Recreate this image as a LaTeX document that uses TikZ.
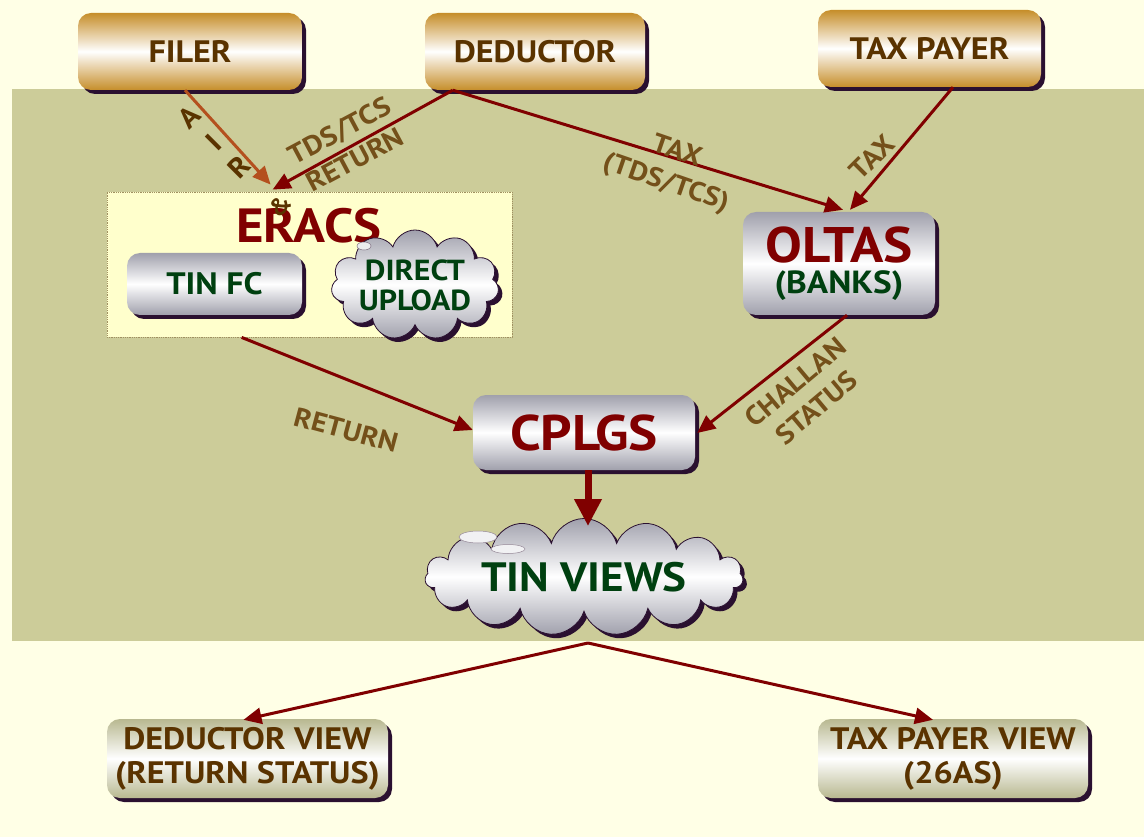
\documentclass[tikz,border=0pt]{standalone}
\usepackage{fontspec}
\setmainfont{PT Sans}[FakeStretch=1.1]
\usetikzlibrary{arrows.meta,shapes.symbols,shadows,calc}
\definecolor{cream}{HTML}{FFFFE6}
\definecolor{olive}{HTML}{CCCC99}
\definecolor{eracsbg}{HTML}{FFFFCC}
\definecolor{dotc}{HTML}{A09060}
\definecolor{gold}{HTML}{C68E2A}
\definecolor{silver}{HTML}{A0A0AC}
\definecolor{viewc}{HTML}{B8B890}
\definecolor{shadowc}{HTML}{2A1030}
\definecolor{arrowc}{HTML}{800000}
\definecolor{airc}{HTML}{B4501E}
\definecolor{labelc}{HTML}{74501A}
\definecolor{brownt}{HTML}{5A3300}
\definecolor{redt}{HTML}{800000}
\definecolor{greent}{HTML}{004010}
\begin{document}
\begin{tikzpicture}[x=1pt,y=-1pt,
  sh/.style={drop shadow={shadow xshift=4pt,shadow yshift=-4pt,fill=shadowc,opacity=1}},
  box/.style={rounded corners=13pt, inner sep=0pt, align=center, sh},
  goldbox/.style={box, top color=gold, bottom color=gold, middle color=white, text=brownt, font=\bfseries\fontsize{31}{33}\selectfont},
  silverbox/.style={box, top color=silver, bottom color=silver, middle color=white},
  viewbox/.style={box, top color=viewc, bottom color=viewc, middle color=white, text=brownt, font=\bfseries\fontsize{31}{34}\selectfont},
  cloudn/.style={cloud, cloud puffs=11, cloud ignores aspect, inner sep=0pt, draw=shadowc, line width=0.8pt, top color=silver, bottom color=silver, middle color=white, align=center, sh},
  arr/.style={draw=arrowc, line width=3pt, -{Triangle[length=18pt,width=16pt]}},
  lab/.style={text=labelc, font=\bfseries\fontsize{27}{33}\selectfont, align=center, inner sep=0pt},
]
\useasboundingbox (0,0) rectangle (1144,837);
\fill[cream] (0,0) rectangle (1144,837);
\fill[olive] (12,89) rectangle (1144,641);

% top boxes
\node[goldbox, minimum width=224pt, minimum height=77pt] (filer) at (190,51.5) {FILER};
\node[goldbox, minimum width=220pt, minimum height=77pt] (deductor) at (535,51.5) {DEDUCTOR};
\node[goldbox, minimum width=223pt, minimum height=77pt] (taxpayer) at (929.5,48.5) {TAX PAYER};

% ERACS
\node[draw=dotc, densely dotted, line width=0.8pt, fill=eracsbg, minimum width=405pt, minimum height=145pt, inner sep=0pt] (eracs) at (309.5,264.5) {};
\node[text=redt, font=\bfseries\fontsize{48}{48}\selectfont, inner sep=0pt] (eracst) at (309,226) {ERACS};
\node[silverbox, minimum width=175pt, minimum height=62pt, text=greent, font=\bfseries\fontsize{31}{31}\selectfont] (tinfc) at (214.5,284) {TIN FC};
\node[cloudn, minimum width=157pt, minimum height=110pt, text=greent, font=\bfseries\fontsize{29}{30}\selectfont] (upload) at (415,285) {DIRECT\\UPLOAD};
\filldraw[draw=shadowc!60, line width=0.5pt, fill=white!80!silver] (364,246) ellipse (7 and 4);

% OLTAS
\node[silverbox, minimum width=192pt, minimum height=103pt, font=\bfseries] (oltas) at (839,263.5)
  {{\color{redt}\fontsize{50}{50}\selectfont OLTAS}\\[6pt]{\color{greent}\fontsize{32}{32}\selectfont (BANKS)}};

% CPLGS
\node[silverbox, minimum width=222pt, minimum height=75pt, text=redt, font=\bfseries\fontsize{50}{50}\selectfont] (cplgs) at (584,432.5) {CPLGS};

% TIN VIEWS
\node[cloudn, cloud puffs=15, minimum width=318pt, minimum height=117pt, text=greent, font=\bfseries\fontsize{41}{41}\selectfont] (tin) at (584,577) {TIN VIEWS};
\filldraw[draw=shadowc!50, line width=0.5pt, fill=white!85!silver] (478,537) ellipse (19 and 6);
\filldraw[draw=shadowc!50, line width=0.5pt, fill=white!85!silver] (508,549) ellipse (17 and 4.5);

% bottom boxes
\node[viewbox, minimum width=281pt, minimum height=79pt] (dview) at (247.5,758.5) {DEDUCTOR VIEW\\(RETURN STATUS)};
\node[viewbox, minimum width=270pt, minimum height=79pt] (tpview) at (953,758.5) {TAX PAYER VIEW\\(26AS)};

% connectors
\coordinate (split) at (588,643);
\draw[arr, draw=airc] ($(filer.south)+(-5,0)$) -- ($(eracs.north west)+(164,-7)$);
\draw[arr] ($(deductor.south west)+(28,0)$) -- ($(eracs.north west)+(166,-2)$);
\draw[arr] ($(deductor.south west)+(28,0)$) -- ($(oltas.north)+(4,-2)$);
\draw[arr] ($(taxpayer.south)+(23.5,0)$) -- ($(oltas.north)+(11,-2)$);
\draw[arr] ($(eracs.south west)+(135,0)$) -- ($(cplgs.west)+(0,-2.5)$);
\draw[arr] ($(oltas.south)+(8,0)$) -- ($(cplgs.east)+(2,0.5)$);
\draw[draw=arrowc, line width=7pt, -{Triangle[length=27pt,width=26pt]}] ($(cplgs.south)+(4,0)$) -- ($(tin.north)+(4,8)$);
\draw[arr] (split) -- ($(dview.north)+(-4,1)$);
\draw[arr] (split) -- ($(tpview.north)+(-20,1)$);

% labels
\node[lab, rotate=45, text=brownt, font=\bfseries\fontsize{28}{35}\selectfont] (air) at (214,142) {A\\I\\R};
\node[lab, rotate=45, text=brownt, font=\bfseries\fontsize{24}{24}\selectfont] (amp) at (280,206) {\&};
\node[lab, rotate=28] (l1) at (347,145) {TDS/TCS\\RETURN};
\node[lab, rotate=-19] (l2) at (671,168) {TAX\\(TDS/TCS)};
\node[lab, rotate=45] (l3) at (872,157) {TAX};
\node[lab, rotate=-15] (l4) at (346,430) {RETURN};
\node[lab, rotate=40] (l5) at (806,395) {CHALLAN\\STATUS};
\end{tikzpicture}
\end{document}
